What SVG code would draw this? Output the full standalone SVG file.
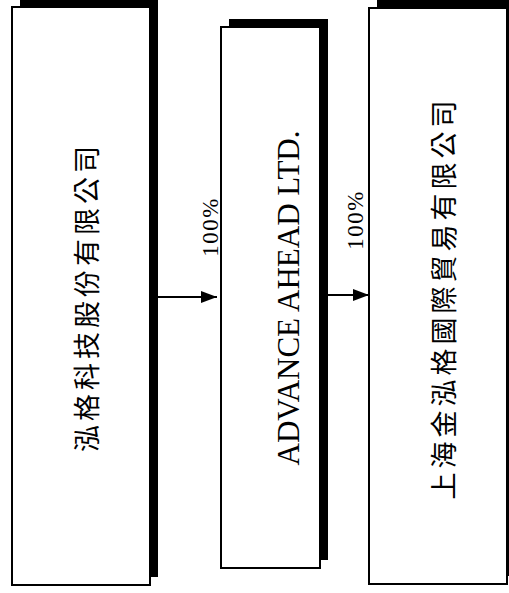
<svg xmlns="http://www.w3.org/2000/svg" width="509" height="593" viewBox="0 0 509 593">
<defs>
<style>
.shadow{fill:#000;}
.box{fill:#fff;stroke:#000;stroke-width:2;}
.cjk{font-family:"Noto Sans CJK TC","Noto Sans CJK SC",sans-serif;font-size:27px;letter-spacing:4px;fill:#000;}
.en{font-family:"Liberation Serif",serif;font-size:31px;fill:#000;}
.pct{font-family:"Liberation Serif",serif;font-size:23px;letter-spacing:1.5px;fill:#000;}
.conn{stroke:#000;stroke-width:2;fill:none;}
</style>
<marker id="arr" viewBox="0 0 16 12" refX="16" refY="6" markerWidth="16" markerHeight="12" markerUnits="userSpaceOnUse" orient="auto">
<path d="M0,0 L16,6 L0,12 Z" fill="#000"/>
</marker>
</defs>
<rect width="509" height="593" fill="#fff"/>
<g id="node1">
<rect class="shadow" x="20" y="-1" width="138" height="578"/>
<rect class="box" x="12" y="7" width="138" height="578"/>
<text class="cjk" transform="translate(97,297) rotate(-90)" text-anchor="middle">泓格科技股份有限公司</text>
</g>
<g id="node2">
<rect class="shadow" x="229" y="19" width="99" height="541"/>
<rect class="box" x="221" y="27" width="99" height="541"/>
<text class="en" transform="translate(299,298) rotate(-90)" text-anchor="middle">ADVANCE AHEAD LTD.</text>
</g>
<g id="node3">
<rect class="shadow" x="377" y="0" width="140" height="576"/>
<rect class="box" x="369" y="8" width="138" height="576"/>
<text class="cjk" transform="translate(454,298) rotate(-90)" text-anchor="middle">上海金泓格國際貿易有限公司</text>
</g>
<g id="connectors">
<line class="conn" x1="151" y1="297" x2="217" y2="297" marker-end="url(#arr)"/>
<line class="conn" x1="321" y1="295" x2="369" y2="295" marker-end="url(#arr)"/>
<text class="pct" transform="translate(218,227) rotate(-90)" text-anchor="middle">100%</text>
<text class="pct" transform="translate(363,220) rotate(-90)" text-anchor="middle">100%</text>
</g>
</svg>
